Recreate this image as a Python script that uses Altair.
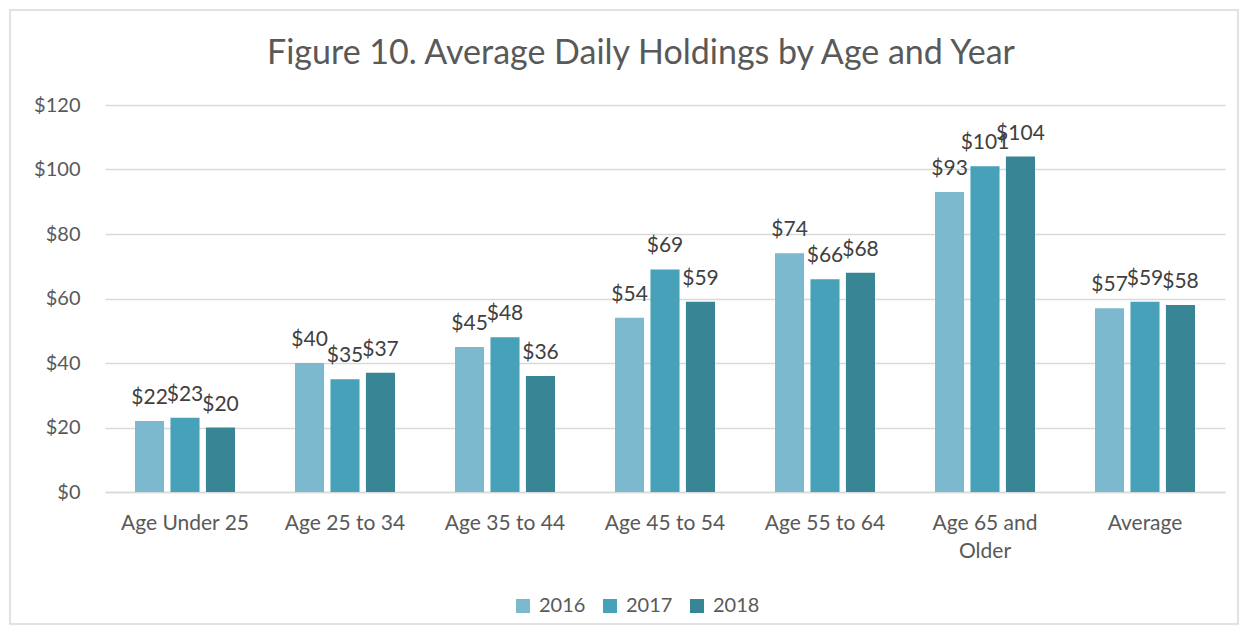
import altair as alt
import pandas as pd

categories = ["Age Under 25", "Age 25 to 34", "Age 35 to 44", "Age 45 to 54",
              "Age 55 to 64", "Age 65 and Older", "Average"]
years = ["2016", "2017", "2018"]
v2016 = [22, 40, 45, 54, 74, 93, 57]
v2017 = [23, 35, 48, 69, 66, 101, 59]
v2018 = [20, 37, 36, 59, 68, 104, 58]
colors = ["#7DB9CE", "#46A1B9", "#388596"]
y_ticks = [0, 20, 40, 60, 80, 100, 120]

rows = []
for yr, vals in zip(years, [v2016, v2017, v2018]):
    for c, v in zip(categories, vals):
        rows.append({"category": c, "year": yr, "value": v})
df = pd.DataFrame(rows)

FONT = "Lato"
GRAY = "#595959"

x = alt.X("category:N", sort=categories,
          scale=alt.Scale(paddingInner=0.375, paddingOuter=0.1875),
          axis=alt.Axis(title=None, labelAngle=0, labelFontSize=21, labelColor=GRAY,
                        labelFont=FONT, domainColor="#D9D9D9", domainWidth=1.5,
                        ticks=False, labelPadding=20, labelLineHeight=28,
                        labelExpr="datum.label == 'Age 65 and Older' ? ['Age 65 and', 'Older'] : datum.label"))
xo = alt.XOffset("year:N", sort=years, scale=alt.Scale(paddingInner=0.18))
y = alt.Y("value:Q", scale=alt.Scale(domain=[0, 120]),
          axis=alt.Axis(title=None, values=y_ticks, format="$.0f", labelFontSize=20,
                        labelColor=GRAY, labelFont=FONT, labelPadding=25,
                        domain=False, ticks=False, gridColor="#D9D9D9", gridWidth=1.5))
color = alt.Color("year:N", sort=years,
                  scale=alt.Scale(domain=years, range=colors),
                  legend=alt.Legend(title=None, orient="none", legendX=408, legendY=491,
                                    direction="horizontal", symbolType="square",
                                    symbolSize=196, symbolStrokeWidth=0, labelFontSize=20,
                                    labelFont=FONT, labelColor=GRAY, labelOffset=6,
                                    columnPadding=14))

base = alt.Chart(df)
bars = base.mark_bar().encode(x=x, xOffset=xo, y=y, color=color)
labels = base.mark_text(baseline="alphabetic", dy=-17, fontSize=21, font=FONT,
                        color="#404040").encode(
    x=x, xOffset=xo, y=y, text=alt.Text("value:Q", format="$.0f"))

border = alt.Chart(pd.DataFrame({"a": [0]})).mark_rect(
    filled=False, stroke="#D9D9D9", strokeWidth=1.5).encode(
    x=alt.value(-95), x2=alt.value(1133), y=alt.value(-95), y2=alt.value(519))

chart = alt.layer(border, bars, labels).properties(
    width=1120, height=387,
    title=alt.Title("Figure 10. Average Daily Holdings by Age and Year",
                    fontSize=34, font=FONT, fontWeight="normal", color=GRAY,
                    anchor="middle", offset=-62, dx=-24),
    autosize=alt.AutoSizeParams(type="none"),
    padding={"left": 97, "top": 97, "right": 15, "bottom": 135},
).configure_view(stroke=None)

chart.save("out.html", embed_options={"renderer": "svg", "actions": False})
